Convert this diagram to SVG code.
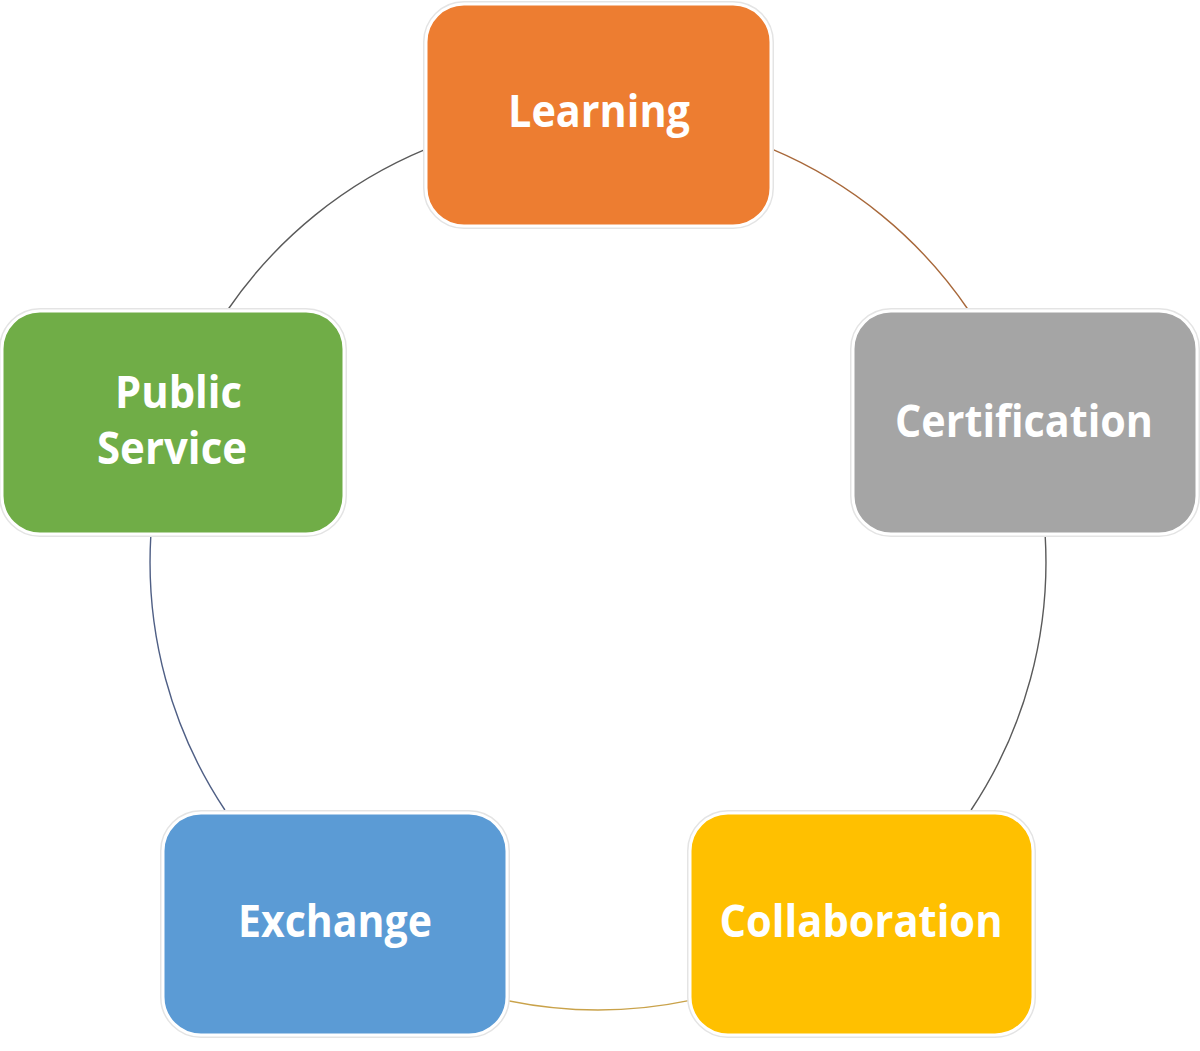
<svg xmlns="http://www.w3.org/2000/svg" width="1200" height="1051" viewBox="0 0 1200 1051">
<style>
.edge{fill:none;stroke-width:1.4}
.halo{fill:none;stroke:#e4e4e4;stroke-width:6}
.box{stroke:#ffffff;stroke-width:3}
.lbl{font-family:"Open Sans","Liberation Sans",sans-serif;font-weight:bold;font-size:44px;fill:#ffffff;text-anchor:middle}
</style>
<rect width="1200" height="1051" fill="#ffffff"/>
<g id="connectors">
<path class="edge" stroke="#5a5a5a" d="M 227.6 310 A 448 448 0 0 1 426 149.2"/>
<path class="edge" stroke="#a8683a" d="M 772 149.2 A 448 448 0 0 1 968.4 310"/>
<path class="edge" stroke="#5a5a5a" d="M 1045.2 536 A 448 448 0 0 1 971.1 810"/>
<path class="edge" stroke="#c9a24a" d="M 690 1000.4 A 448 448 0 0 1 506 1000.4"/>
<path class="edge" stroke="#4f5f85" d="M 224.9 810 A 448 448 0 0 1 150.8 536"/>
</g>
<g id="learning">
<rect class="halo" x="426" y="4" width="345" height="222" rx="38"/>
<rect class="box" fill="#ED7D31" x="426" y="4" width="345" height="222" rx="38"/>
<text class="lbl" x="599" y="127" textLength="182" lengthAdjust="spacingAndGlyphs">Learning</text>
</g>
<g id="certification">
<rect class="halo" x="853" y="311" width="344" height="223" rx="38"/>
<rect class="box" fill="#A5A5A5" x="853" y="311" width="344" height="223" rx="38"/>
<text class="lbl" x="1024" y="437" textLength="258" lengthAdjust="spacingAndGlyphs">Certification</text>
</g>
<g id="collaboration">
<rect class="halo" x="690" y="813" width="343" height="222" rx="38"/>
<rect class="box" fill="#FFC000" x="690" y="813" width="343" height="222" rx="38"/>
<text class="lbl" x="861" y="937" textLength="283" lengthAdjust="spacingAndGlyphs">Collaboration</text>
</g>
<g id="exchange">
<rect class="halo" x="163" y="813" width="344" height="222" rx="38"/>
<rect class="box" fill="#5B9BD5" x="163" y="813" width="344" height="222" rx="38"/>
<text class="lbl" x="335" y="937" textLength="194" lengthAdjust="spacingAndGlyphs">Exchange</text>
</g>
<g id="public-service">
<rect class="halo" x="2" y="311" width="342" height="223" rx="38"/>
<rect class="box" fill="#70AD47" x="2" y="311" width="342" height="223" rx="38"/>
<text class="lbl" x="178.5" y="408" textLength="127" lengthAdjust="spacingAndGlyphs">Public</text>
<text class="lbl" x="172" y="464" textLength="150" lengthAdjust="spacingAndGlyphs">Service</text>
</g>
</svg>
